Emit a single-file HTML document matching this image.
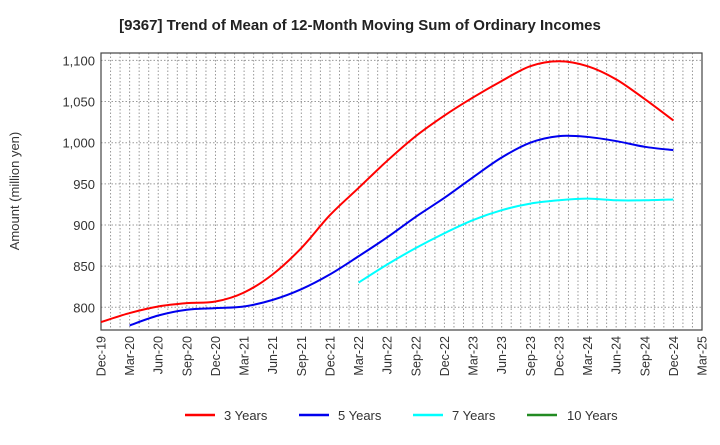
<!DOCTYPE html>
<html><head><meta charset="utf-8"><style>
body{margin:0;background:#fff;font-family:"Liberation Sans",sans-serif}
svg text{font-family:"Liberation Sans",sans-serif}
</style></head><body>
<svg id="chart" width="720" height="440" xmlns="http://www.w3.org/2000/svg">
<text x="360" y="30" text-anchor="middle" font-size="15" font-weight="bold" fill="#222">[9367]  Trend of Mean of 12-Month Moving Sum of Ordinary Incomes</text>
<text transform="translate(19,191) rotate(-90)" text-anchor="middle" font-size="13" fill="#333">Amount (million yen)</text>
<g id="grid"></g><g id="axes"></g><g id="series"></g>
<g font-size="13" fill="#333">
<line x1="185" x2="215" y1="415" y2="415" stroke="#ff0000" stroke-width="2.5"/><text x="224" y="420">3 Years</text>
<line x1="299" x2="329" y1="415" y2="415" stroke="#0000ee" stroke-width="2.5"/><text x="338" y="420">5 Years</text>
<line x1="413" x2="443" y1="415" y2="415" stroke="#00ffff" stroke-width="2.5"/><text x="452" y="420">7 Years</text>
<line x1="527" x2="557" y1="415" y2="415" stroke="#228b22" stroke-width="2.5"/><text x="567" y="420">10 Years</text>
</g>
</svg>
<script>
const tickLabels=["Dec-19","Mar-20","Jun-20","Sep-20","Dec-20","Mar-21","Jun-21","Sep-21","Dec-21","Mar-22","Jun-22","Sep-22","Dec-22","Mar-23","Jun-23","Sep-23","Dec-23","Mar-24","Jun-24","Sep-24","Dec-24","Mar-25"];
const yTicks=[800,850,900,950,1000,1050,1100];
const y3=[782,793,801,805,807,818,840,872,912,945,978,1008,1033,1055,1075,1093,1099,1093,1077,1053,1027];
const y3Start=0;
const y5=[778,790,797,799,801,809,822,840,862,885,910,933,958,982,1000,1008,1007,1002,995,991];
const y5Start=1;
const y7=[830,852,872,890,906,918,926,930,932,930,930,931];
const y7Start=9;
const y10=[];
const y10Start=0;

const L=101,R=702,T=53,B=330,Y0=772.4,Y1=1109;
const NS="http://www.w3.org/2000/svg";
function xq(q){return L+(R-L)*(q*3)/63;}
function xm(m){return L+(R-L)*m/63;}
function yv(v){return B-(v-Y0)/(Y1-Y0)*(B-T);}
function mk(t,a,p){const e=document.createElementNS(NS,t);for(const k in a)e.setAttribute(k,a[k]);p.appendChild(e);return e;}
const grid=document.getElementById('grid'),axes=document.getElementById('axes'),ser=document.getElementById('series');
for(let m=1;m<63;m++){const l=mk('line',{x1:xm(m),x2:xm(m),y1:T,y2:B,stroke:'#999','stroke-width':1,'stroke-dasharray':'1.5,2'},grid);

}
yTicks.forEach(v=>{const l=mk('line',{x1:L,x2:R,y1:yv(v),y2:yv(v),stroke:'#999','stroke-width':1,'stroke-dasharray':'1.5,2'},grid);


const t=mk('text',{x:L-6,y:yv(v)+5,'text-anchor':'end','font-size':13,fill:'#333'},axes);


t.textContent=v.toLocaleString('en-US');});
tickLabels.forEach((s,i)=>{const x=xq(i);const t=mk('text',{transform:`translate(${x+4.5},336) rotate(-90)`,'text-anchor':'end','font-size':12.5,fill:'#333'},axes);


t.textContent=s;});
const fr=mk('rect',{x:L,y:T,width:R-L,height:B-T,fill:'none',stroke:'#444','stroke-width':1.2},axes);


function path(vals,start){if(vals.length<2)return'';const p=vals.map((v,i)=>[xq(start+i),yv(v)]);let d=`M${p[0][0]},${p[0][1]}`;
for(let i=0;i<p.length-1;i++){const a=p[i-1]||p[i],b=p[i],c=p[i+1],e=p[i+2]||c;
d+=` C${b[0]+(c[0]-a[0])/6},${b[1]+(c[1]-a[1])/6} ${c[0]-(e[0]-b[0])/6},${c[1]-(e[1]-b[1])/6} ${c[0]},${c[1]}`;}return d;}
[[y3,y3Start,'#ff0000','series-3-years'],[y5,y5Start,'#0000ee','series-5-years'],[y7,y7Start,'#00ffff','series-7-years'],[y10,y10Start,'#228b22','series-10-years']].forEach(([v,s,c,n])=>{
const d=path(v,s);if(!d)return;const p=mk('path',{d:d,fill:'none',stroke:c,'stroke-width':2},ser);

});
</script>
</body></html>
